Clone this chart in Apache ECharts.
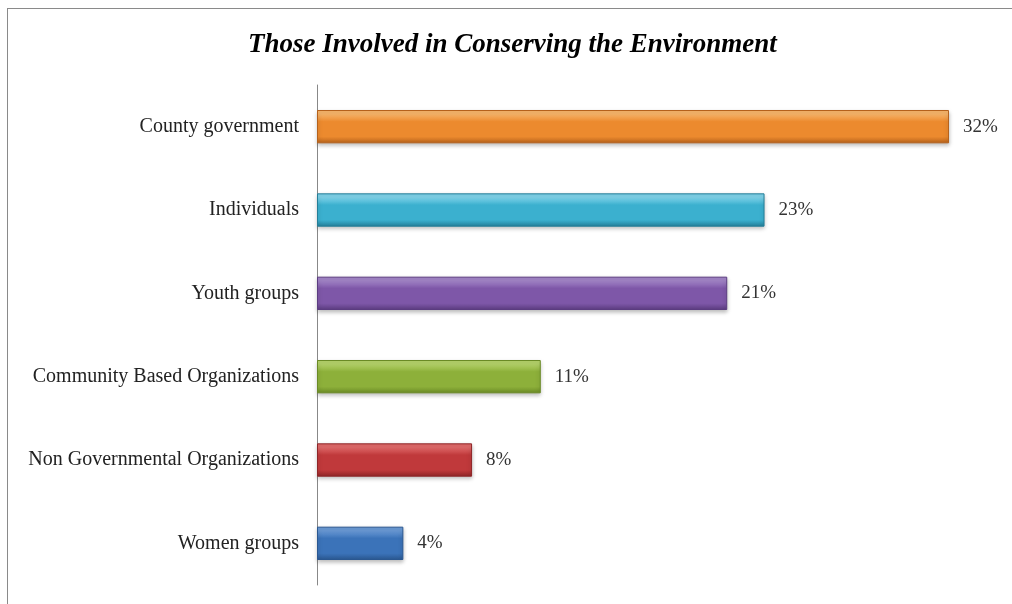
<!DOCTYPE html>
<html>
<head>
<meta charset="utf-8">
<script src="https://cdn.jsdelivr.net/npm/echarts@6/dist/echarts.min.js"></script>
<style>
  html, body { margin: 0; padding: 0; background: #fff; }
  #frame { position: absolute; left: 7px; top: 8px; width: 1005px; height: 596px;
           border-top: 1px solid #8a8a8a; border-left: 1px solid #8a8a8a; }
  #chart { position: absolute; left: 0; top: 0; width: 1012px; height: 604px; }
</style>
</head>
<body>
<div id="frame"></div>
<div id="chart"></div>
<script>
const titleText = 'Those Involved in Conserving the Environment';
const categories = ['Women groups', 'Non Governmental Organizations', 'Community Based Organizations', 'Youth groups', 'Individuals', 'County government'];
const values = [4.4, 7.9, 11.4, 20.9, 22.8, 32.2];
const baseColors = [
  ['#6a9ad6', '#3b73b9', '#2a5790'],
  ['#e06a6a', '#c0393b', '#8e2527'],
  ['#b5d36a', '#8db03a', '#6a8a25'],
  ['#a385c8', '#7e57a8', '#5b3c80'],
  ['#7fd3ea', '#3bb0cf', '#247e98'],
  ['#f8b56a', '#ec8a2e', '#b5611b']
];

function grad(c) {
  return new echarts.graphic.LinearGradient(0, 0, 0, 1, [
    { offset: 0, color: c[0] },
    { offset: 0.12, color: c[0] },
    { offset: 0.35, color: c[1] },
    { offset: 0.8, color: c[1] },
    { offset: 1, color: c[2] }
  ]);
}

const chart = echarts.init(document.getElementById('chart'), null, { renderer: 'canvas' });
chart.setOption({
  animation: false,
  title: {
    text: titleText,
    left: 243,
    top: 27,
    textStyle: { fontFamily: 'Liberation Serif', fontStyle: 'italic', fontWeight: 'bold', fontSize: 27, color: '#000' }
  },
  grid: { left: 317, right: 8, top: 85, bottom: 19, containLabel: false },
  xAxis: {
    type: 'value', min: 0, max: 35,
    show: false
  },
  yAxis: {
    type: 'category',
    data: categories,
    axisLine: { show: true, lineStyle: { color: '#888', width: 1 } },
    axisTick: { show: false },
    axisLabel: { margin: 18, fontFamily: 'Liberation Serif', fontSize: 20, color: '#222' }
  },
  series: [{
    type: 'bar',
    barWidth: '40%',
    data: values.map((v, i) => ({
      value: v,
      itemStyle: {
        color: grad(baseColors[i]),
        borderColor: baseColors[i][2],
        borderWidth: 1,
        shadowColor: 'rgba(0,0,0,0.25)',
        shadowBlur: 4,
        shadowOffsetY: 2
      }
    })),
    label: {
      show: true,
      position: 'right',
      distance: 14,
      fontFamily: 'Liberation Serif',
      fontSize: 19,
      color: '#333',
      formatter: p => Math.round(p.value) + '%'
    }
  }]
});
</script>
</body>
</html>
